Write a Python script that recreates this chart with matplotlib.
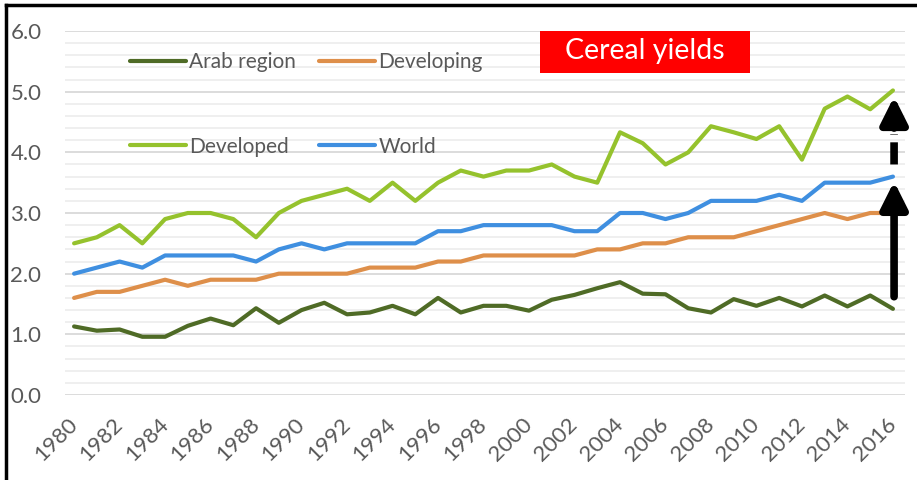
import numpy as np
import matplotlib
matplotlib.use('Agg')
import matplotlib.pyplot as plt
from matplotlib.lines import Line2D
from matplotlib.patches import Rectangle
from matplotlib.ticker import MultipleLocator

plt.rcParams['font.family'] = ['Lato', 'DejaVu Sans']

years = list(range(1980, 2017))

arab = [1.13, 1.06, 1.08, 0.96, 0.96, 1.14, 1.26, 1.15, 1.43, 1.19,
        1.40, 1.52, 1.33, 1.36, 1.47, 1.33, 1.60, 1.36, 1.47, 1.47,
        1.39, 1.57, 1.65, 1.76, 1.86, 1.67, 1.66, 1.43, 1.36, 1.58,
        1.47, 1.60, 1.46, 1.64, 1.46, 1.64, 1.42]
developing = [1.6, 1.7, 1.7, 1.8, 1.9, 1.8, 1.9, 1.9, 1.9, 2.0,
              2.0, 2.0, 2.0, 2.1, 2.1, 2.1, 2.2, 2.2, 2.3, 2.3,
              2.3, 2.3, 2.3, 2.4, 2.4, 2.5, 2.5, 2.6, 2.6, 2.6,
              2.7, 2.8, 2.9, 3.0, 2.9, 3.0, 3.0]
developed = [2.5, 2.6, 2.8, 2.5, 2.9, 3.0, 3.0, 2.9, 2.6, 3.0,
             3.2, 3.3, 3.4, 3.2, 3.5, 3.2, 3.5, 3.7, 3.6, 3.7,
             3.7, 3.8, 3.6, 3.5, 4.33, 4.15, 3.8, 4.0, 4.43, 4.33,
             4.22, 4.43, 3.88, 4.72, 4.92, 4.71, 5.02]
world = [2.0, 2.1, 2.2, 2.1, 2.3, 2.3, 2.3, 2.3, 2.2, 2.4,
         2.5, 2.4, 2.5, 2.5, 2.5, 2.5, 2.7, 2.7, 2.8, 2.8,
         2.8, 2.8, 2.7, 2.7, 3.0, 3.0, 2.9, 3.0, 3.2, 3.2,
         3.2, 3.3, 3.2, 3.5, 3.5, 3.5, 3.6]

c_arab = '#4F6B26'
c_dev = '#DE8F4A'
c_dvd = '#95C22D'
c_world = '#3F8FE0'
grey = '#595959'

fig = plt.figure(figsize=(9.17, 4.8), dpi=100)
ax = fig.add_axes([65 / 917, 85 / 480, 840 / 917, 364 / 480])

l1, = ax.plot(years, arab, color=c_arab, lw=3, label='Arab region', solid_capstyle='round')
l2, = ax.plot(years, developing, color=c_dev, lw=3, label='Developing', solid_capstyle='round')
l3, = ax.plot(years, developed, color=c_dvd, lw=3, label='Developed', solid_capstyle='round')
l4, = ax.plot(years, world, color=c_world, lw=3, label='World', solid_capstyle='round')

ax.set_xlim(1979.6, 2016.53)
ax.set_ylim(0, 6)
ax.yaxis.set_major_locator(MultipleLocator(1))
ax.yaxis.set_minor_locator(MultipleLocator(0.2))
ax.yaxis.set_major_formatter(matplotlib.ticker.FormatStrFormatter('%.1f'))
ax.grid(axis='y', which='major', color='#D9D9D9', lw=1.3)
ax.grid(axis='y', which='minor', color='#EEEEEE', lw=1.3)
ax.set_axisbelow(True)
for s in ax.spines.values():
    s.set_visible(False)

ax.set_xticks(years[::2])
ax.set_xticklabels([str(y) for y in years[::2]], rotation=45, ha='right',
                   va='center', rotation_mode='anchor')
ax.tick_params(axis='both', which='both', length=0, labelsize=16, colors=grey)
ax.tick_params(axis='x', pad=19)
ax.tick_params(axis='y', pad=17)

# legend fills column-wise, so order handles to get the rows right
leg = ax.legend([l1, l3, l2, l4], ['Arab region', 'Developed', 'Developing', 'World'],
                loc='upper left', bbox_to_anchor=(0.077, 0.942), ncol=2, frameon=False,
                fontsize=15, labelcolor=grey, handlelength=2.7, handletextpad=0.15,
                columnspacing=1.1, labelspacing=3.1, borderpad=0, borderaxespad=0)

# title box
ax.add_patch(Rectangle((0.5655, 0.8846), 0.25, 0.1236, transform=ax.transAxes,
                       facecolor='#FF0000', edgecolor='none', zorder=3))
ax.text(0.6905, 0.946, 'Cereal yields', transform=ax.transAxes, fontsize=20.5,
        color='white', ha='center', va='center', zorder=4)

# arrows at the last year
x_end = years[-1] + 0.05
ax.annotate('', xy=(x_end, world[-1] - 0.08), xytext=(x_end, arab[-1] + 0.2),
            arrowprops=dict(arrowstyle='-|>,head_length=1.6,head_width=0.8', lw=5.5,
                            color='black', shrinkA=0, shrinkB=0))
ax.annotate('', xy=(x_end, 4.3), xytext=(x_end, world[-1] + 0.2),
            arrowprops=dict(arrowstyle='-', lw=5.5, ls=(0, (2.9, 1.0)),
                            color='black', shrinkA=0, shrinkB=0, capstyle='butt'))
ax.annotate('', xy=(x_end, developed[-1] - 0.1), xytext=(x_end, 4.4),
            arrowprops=dict(arrowstyle='-|>,head_length=1.6,head_width=0.8', lw=5.5,
                            color='black', shrinkA=0, shrinkB=0))

# outer frame (top and left only visible)
fig.add_artist(Line2D([6 / 917, 1], [1 - 5 / 480, 1 - 5 / 480], color='black', lw=2.5))
fig.add_artist(Line2D([6 / 917, 6 / 917], [0, 1 - 5 / 480], color='black', lw=2.5))

fig.savefig('out.png', dpi=100)
